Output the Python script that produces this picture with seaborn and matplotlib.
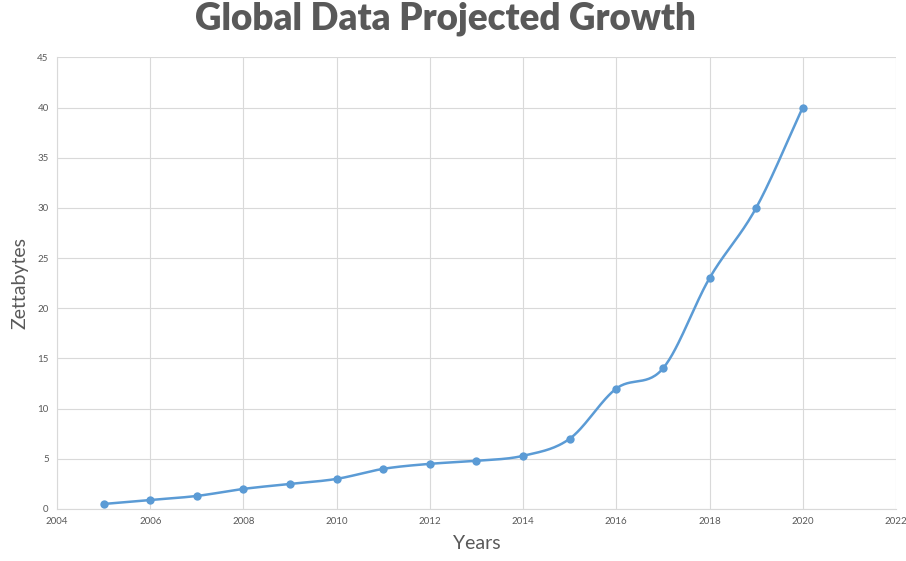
import numpy as np
import matplotlib
matplotlib.use("Agg")
import matplotlib.pyplot as plt
import seaborn as sns

years = [2005, 2006, 2007, 2008, 2009, 2010, 2011, 2012,
         2013, 2014, 2015, 2016, 2017, 2018, 2019, 2020]
zettabytes = [0.5, 0.9, 1.3, 2.0, 2.5, 3.0, 4.0, 4.5,
              4.8, 5.3, 7.0, 12.0, 14.0, 23.0, 30.0, 40.0]


def smooth_line(x, y, steps=30):
    # Catmull-Rom curve through the points, like Excel's smoothed line
    x = np.asarray(x, float)
    y = np.asarray(y, float)
    px = np.concatenate([[2 * x[0] - x[1]], x, [2 * x[-1] - x[-2]]])
    py = np.concatenate([[2 * y[0] - y[1]], y, [2 * y[-1] - y[-2]]])
    xs, ys = [], []
    t = np.linspace(0, 1, steps, endpoint=False)
    for i in range(1, len(px) - 2):
        for p, out in ((px, xs), (py, ys)):
            p0, p1, p2, p3 = p[i - 1], p[i], p[i + 1], p[i + 2]
            out.extend(0.5 * (2 * p1 + (-p0 + p2) * t
                              + (2 * p0 - 5 * p1 + 4 * p2 - p3) * t ** 2
                              + (-p0 + 3 * p1 - 3 * p2 + p3) * t ** 3))
    xs.append(x[-1])
    ys.append(y[-1])
    return xs, ys


sns.set_style("white")
plt.rcParams['font.family'] = ['Lato', 'DejaVu Sans']

fig = plt.figure(figsize=(9.06, 5.61), dpi=100)
ax = fig.add_axes([0.0629, 0.0927, 0.926, 0.805])

blue = '#5B9BD5'
sx, sy = smooth_line(years, zettabytes)
ax.plot(sx, sy, color=blue, linewidth=1.8, zorder=3)
sns.scatterplot(x=years, y=zettabytes, color=blue, s=36, edgecolor=blue,
                linewidth=0, ax=ax, zorder=4)

ax.set_xlim(2004, 2022)
ax.set_ylim(0, 45)
ax.set_xticks(range(2004, 2023, 2))
ax.set_yticks(range(0, 46, 5))
ax.grid(True, color='#D9D9D9', linewidth=0.8)
ax.set_axisbelow(True)
for side in ['top', 'right']:
    ax.spines[side].set_visible(False)
for side in ['left', 'bottom']:
    ax.spines[side].set_color('#D9D9D9')
    ax.spines[side].set_linewidth(0.8)
ax.tick_params(length=0, labelsize=7, colors='#595959', pad=6)

ax.set_xlabel('Years', fontsize=14, color='#595959', labelpad=6)
ax.set_ylabel('Zettabytes', fontsize=14, color='#595959', labelpad=6)
fig.suptitle('Global Data Projected Growth', fontsize=26.5, fontweight='heavy',
             color='#595959', x=0.492, y=0.998)

fig.savefig('out.png', dpi=100)
